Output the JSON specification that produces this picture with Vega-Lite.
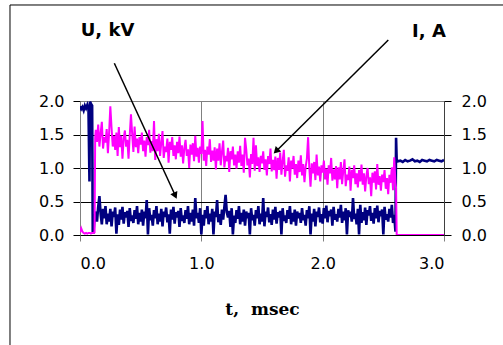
{
"$schema": "https://vega.github.io/schema/vega-lite/v6.json",
"width": 364, "height": 134,
"autosize": {"type": "none"},
"padding": {"left": 80, "top": 101, "right": 59, "bottom": 110},
"background": "white",
"config": {"view": {"stroke": "#808080", "strokeWidth": 1}, "axis": {"labelFont": "DejaVu Sans", "labelFontSize": 16, "labelColor": "black"}},
"data": {"values": [
{"t":0,"u":1.92,"i":0.04},{"t":0.01,"u":1.88,"i":0.10},{"t":0.02,"u":1.91,"i":0.05},{"t":0.03,"u":1.86,"i":0.03},{"t":0.04,"u":1.93,"i":0.02},{"t":0.05,"u":1.89,"i":0.03},{"t":0.06,"u":1.94,"i":0.02},{"t":0.07,"u":1.87,"i":0.03},{"t":0.078,"u":0.80,"i":0.03},{"t":0.082,"u":1.99,"i":0.03},{"t":0.09,"u":1.96,"i":0.02},{"t":0.10,"u":1.93,"i":0.03},{"t":0.105,"u":0.05,"i":0.03},{"t":0.11,"u":0.02,"i":0.03},{"t":0.12,"u":0.25,"i":0.04},{"t":0.125,"u":0.30,"i":1.45},
{"t":0.13,"u":0.35,"i":1.57},{"t":0.14,"u":0.20,"i":1.39},{"t":0.15,"u":0.42,"i":1.65},{"t":0.16,"u":0.58,"i":1.32},{"t":0.17,"u":0.32,"i":1.52},{"t":0.18,"u":0.16,"i":1.69},{"t":0.19,"u":0.39,"i":1.29},
{"t":0.20,"u":0.25,"i":1.46},{"t":0.21,"u":0.43,"i":1.38},{"t":0.22,"u":0.16,"i":1.58},{"t":0.23,"u":0.32,"i":1.22},{"t":0.24,"u":0.20,"i":1.53},{"t":0.25,"u":0.39,"i":1.92},{"t":0.26,"u":0.13,"i":1.60},{"t":0.27,"u":0.35,"i":1.32},{"t":0.28,"u":0.27,"i":1.48},{"t":0.29,"u":0.41,"i":1.27},
{"t":0.30,"u":0.02,"i":1.53},{"t":0.31,"u":0.31,"i":1.18},{"t":0.32,"u":0.15,"i":1.61},{"t":0.33,"u":0.38,"i":1.31},{"t":0.34,"u":0.23,"i":1.48},{"t":0.35,"u":0.42,"i":1.14},{"t":0.36,"u":0.17,"i":1.44},{"t":0.37,"u":0.34,"i":1.56},{"t":0.38,"u":0.26,"i":1.32},{"t":0.39,"u":0.36,"i":1.42},
{"t":0.40,"u":0.12,"i":1.14},{"t":0.41,"u":0.40,"i":1.49},{"t":0.42,"u":0.21,"i":1.80},{"t":0.43,"u":0.29,"i":1.51},{"t":0.44,"u":0.18,"i":1.24},{"t":0.45,"u":0.37,"i":1.62},{"t":0.46,"u":0.24,"i":1.31},{"t":0.47,"u":0.43,"i":1.44},{"t":0.48,"u":0.16,"i":1.22},{"t":0.49,"u":0.33,"i":1.46},
{"t":0.50,"u":0.20,"i":1.35},{"t":0.51,"u":0.38,"i":1.53},{"t":0.52,"u":0.14,"i":1.25},{"t":0.53,"u":0.35,"i":1.41},{"t":0.54,"u":0.25,"i":1.17},{"t":0.55,"u":0.52,"i":1.46},{"t":0.56,"u":0.01,"i":1.34},{"t":0.57,"u":0.40,"i":1.57},{"t":0.58,"u":0.22,"i":1.23},{"t":0.59,"u":0.30,"i":1.40},
{"t":0.60,"u":0.14,"i":1.25},{"t":0.61,"u":0.37,"i":1.70},{"t":0.62,"u":0.25,"i":1.12},{"t":0.63,"u":0.43,"i":1.43},{"t":0.64,"u":0.16,"i":1.25},{"t":0.65,"u":0.32,"i":1.51},{"t":0.66,"u":0.20,"i":1.18},{"t":0.67,"u":0.39,"i":1.38},{"t":0.68,"u":0.13,"i":1.55},{"t":0.69,"u":0.35,"i":1.15},
{"t":0.70,"u":0.27,"i":1.32},{"t":0.71,"u":0.41,"i":1.24},{"t":0.72,"u":0.19,"i":1.44},{"t":0.73,"u":0.31,"i":1.08},{"t":0.74,"u":0.02,"i":1.39},{"t":0.75,"u":0.38,"i":1.27},{"t":0.76,"u":0.23,"i":1.46},{"t":0.77,"u":0.42,"i":1.18},{"t":0.78,"u":0.17,"i":1.34},{"t":0.79,"u":0.34,"i":1.13},
{"t":0.80,"u":0.26,"i":1.39},{"t":0.81,"u":0.36,"i":1.22},{"t":0.82,"u":0.12,"i":1.47},{"t":0.83,"u":0.40,"i":1.17},{"t":0.84,"u":0.21,"i":1.34},{"t":0.85,"u":0.29,"i":1.07},{"t":0.86,"u":0.18,"i":1.30},{"t":0.87,"u":0.37,"i":1.42},{"t":0.88,"u":0.24,"i":1.18},{"t":0.89,"u":0.43,"i":1.28},
{"t":0.90,"u":0.16,"i":1.00},{"t":0.91,"u":0.33,"i":1.35},{"t":0.92,"u":0.20,"i":1.20},{"t":0.93,"u":0.38,"i":1.37},{"t":0.94,"u":0.14,"i":1.10},{"t":0.95,"u":0.55,"i":1.48},{"t":0.96,"u":0.25,"i":1.17},{"t":0.97,"u":0.33,"i":1.30},{"t":0.98,"u":0.18,"i":1.08},{"t":0.99,"u":0.40,"i":1.32},
{"t":1.00,"u":0.01,"i":1.21},{"t":1.01,"u":0.30,"i":1.70},{"t":1.02,"u":0.14,"i":1.11},{"t":1.03,"u":0.37,"i":1.27},{"t":1.04,"u":0.25,"i":1.03},{"t":1.05,"u":0.43,"i":1.32},{"t":1.06,"u":0.16,"i":1.20},{"t":1.07,"u":0.32,"i":1.43},{"t":1.08,"u":0.20,"i":1.09},{"t":1.09,"u":0.39,"i":1.26},
{"t":1.10,"u":0.01,"i":1.11},{"t":1.11,"u":0.35,"i":1.31},{"t":1.12,"u":0.27,"i":0.98},{"t":1.13,"u":0.52,"i":1.29},{"t":1.14,"u":0.19,"i":1.11},{"t":1.15,"u":0.31,"i":1.37},{"t":1.16,"u":0.15,"i":1.04},{"t":1.17,"u":0.38,"i":1.24},{"t":1.18,"u":0.23,"i":1.41},{"t":1.19,"u":0.42,"i":1.01},
{"t":1.20,"u":0.60,"i":1.18},{"t":1.21,"u":0.34,"i":1.10},{"t":1.22,"u":0.26,"i":1.30},{"t":1.23,"u":0.36,"i":0.94},{"t":1.24,"u":0.12,"i":1.25},{"t":1.25,"u":0.40,"i":1.13},{"t":1.26,"u":0.01,"i":1.32},{"t":1.27,"u":0.29,"i":1.04},{"t":1.28,"u":0.18,"i":1.20},{"t":1.29,"u":0.37,"i":0.99},
{"t":1.30,"u":0.24,"i":1.25},{"t":1.31,"u":0.43,"i":1.08},{"t":1.32,"u":0.16,"i":1.33},{"t":1.33,"u":0.33,"i":1.03},{"t":1.34,"u":0.20,"i":1.20},{"t":1.35,"u":0.38,"i":0.93},{"t":1.36,"u":0.14,"i":1.45},{"t":1.37,"u":0.35,"i":1.28},{"t":1.38,"u":0.25,"i":1.04},{"t":1.39,"u":0.33,"i":1.14},
{"t":1.40,"u":0.01,"i":0.86},{"t":1.41,"u":0.40,"i":1.21},{"t":1.42,"u":0.22,"i":1.06},{"t":1.43,"u":0.30,"i":1.45},{"t":1.44,"u":0.14,"i":0.96},{"t":1.45,"u":0.37,"i":1.34},{"t":1.46,"u":0.25,"i":1.03},{"t":1.47,"u":0.43,"i":1.16},{"t":1.48,"u":0.16,"i":0.94},{"t":1.49,"u":0.32,"i":1.18},
{"t":1.50,"u":0.20,"i":1.07},{"t":1.51,"u":0.55,"i":1.25},{"t":1.52,"u":0.13,"i":0.97},{"t":1.53,"u":0.35,"i":1.13},{"t":1.54,"u":0.27,"i":0.89},{"t":1.55,"u":0.41,"i":1.18},{"t":1.56,"u":0.19,"i":1.06},{"t":1.57,"u":0.31,"i":1.29},{"t":1.58,"u":0.15,"i":0.95},{"t":1.59,"u":0.38,"i":1.12},
{"t":1.60,"u":0.23,"i":0.97},{"t":1.61,"u":0.42,"i":1.17},{"t":1.62,"u":0.17,"i":0.84},{"t":1.63,"u":0.34,"i":1.15},{"t":1.64,"u":0.26,"i":0.97},{"t":1.65,"u":0.36,"i":1.23},{"t":1.66,"u":0.01,"i":0.90},{"t":1.67,"u":0.40,"i":1.10},{"t":1.68,"u":0.21,"i":1.27},{"t":1.69,"u":0.29,"i":0.87},
{"t":1.70,"u":0.18,"i":1.04},{"t":1.71,"u":0.37,"i":0.96},{"t":1.72,"u":0.24,"i":1.16},{"t":1.73,"u":0.43,"i":0.80},{"t":1.74,"u":0.16,"i":1.11},{"t":1.75,"u":0.33,"i":0.99},{"t":1.76,"u":0.20,"i":1.18},{"t":1.77,"u":0.38,"i":0.90},{"t":1.78,"u":0.14,"i":1.06},{"t":1.79,"u":0.35,"i":0.85},
{"t":1.80,"u":0.25,"i":1.11},{"t":1.81,"u":0.33,"i":0.94},{"t":1.82,"u":0.18,"i":1.19},{"t":1.83,"u":0.40,"i":0.89},{"t":1.84,"u":0.22,"i":1.06},{"t":1.85,"u":0.30,"i":0.79},{"t":1.86,"u":0.14,"i":1.02},{"t":1.87,"u":0.37,"i":1.14},{"t":1.88,"u":0.25,"i":1.46},{"t":1.89,"u":0.43,"i":1.00},
{"t":1.90,"u":0.01,"i":0.72},{"t":1.91,"u":0.32,"i":1.07},{"t":1.92,"u":0.20,"i":0.92},{"t":1.93,"u":0.39,"i":1.09},{"t":1.94,"u":0.13,"i":0.82},{"t":1.95,"u":0.35,"i":1.20},{"t":1.96,"u":0.27,"i":0.89},{"t":1.97,"u":0.41,"i":1.02},{"t":1.98,"u":0.19,"i":0.80},{"t":1.99,"u":0.31,"i":1.04},
{"t":2.00,"u":0.17,"i":0.93},{"t":2.01,"u":0.40,"i":1.11},{"t":2.02,"u":0.25,"i":0.83},{"t":2.03,"u":0.44,"i":0.99},{"t":2.04,"u":0.19,"i":0.75},{"t":2.05,"u":0.36,"i":1.04},{"t":2.06,"u":0.28,"i":0.92},{"t":2.07,"u":0.38,"i":1.15},{"t":2.08,"u":0.14,"i":0.81},{"t":2.09,"u":0.42,"i":0.98},
{"t":2.10,"u":0.23,"i":0.83},{"t":2.11,"u":0.31,"i":1.03},{"t":2.12,"u":0.20,"i":0.70},{"t":2.13,"u":0.39,"i":1.01},{"t":2.14,"u":0.26,"i":0.83},{"t":2.15,"u":0.45,"i":1.09},{"t":2.16,"u":0.18,"i":0.76},{"t":2.17,"u":0.35,"i":0.96},{"t":2.18,"u":0.22,"i":1.13},{"t":2.19,"u":0.40,"i":0.73},
{"t":2.20,"u":0.01,"i":0.90},{"t":2.21,"u":0.37,"i":0.82},{"t":2.22,"u":0.27,"i":1.02},{"t":2.23,"u":0.35,"i":0.66},{"t":2.24,"u":0.20,"i":0.97},{"t":2.25,"u":0.55,"i":0.85},{"t":2.26,"u":0.24,"i":1.04},{"t":2.27,"u":0.32,"i":0.76},{"t":2.28,"u":0.16,"i":0.92},{"t":2.29,"u":0.39,"i":0.71},
{"t":2.30,"u":0.01,"i":0.97},{"t":2.31,"u":0.45,"i":0.80},{"t":2.32,"u":0.18,"i":1.05},{"t":2.33,"u":0.34,"i":0.75},{"t":2.34,"u":0.22,"i":0.92},{"t":2.35,"u":0.41,"i":0.65},{"t":2.36,"u":0.15,"i":0.88},{"t":2.37,"u":0.37,"i":1.00},{"t":2.38,"u":0.29,"i":0.76},{"t":2.39,"u":0.43,"i":0.86},
{"t":2.40,"u":0.21,"i":0.58},{"t":2.41,"u":0.33,"i":0.93},{"t":2.42,"u":0.17,"i":0.78},{"t":2.43,"u":0.40,"i":0.95},{"t":2.44,"u":0.25,"i":0.68},{"t":2.45,"u":0.44,"i":1.06},{"t":2.46,"u":0.19,"i":0.75},{"t":2.47,"u":0.36,"i":0.88},{"t":2.48,"u":0.28,"i":0.66},{"t":2.49,"u":0.38,"i":0.90},
{"t":2.50,"u":0.01,"i":0.79},{"t":2.51,"u":0.42,"i":0.97},{"t":2.52,"u":0.23,"i":0.69},{"t":2.53,"u":0.31,"i":0.85},{"t":2.54,"u":0.20,"i":0.61},{"t":2.55,"u":0.39,"i":0.90},{"t":2.56,"u":0.26,"i":0.78},{"t":2.57,"u":0.45,"i":1.01},{"t":2.58,"u":0.18,"i":0.67},{"t":2.59,"u":0.30,"i":1.16},
{"t":2.60,"u":0.05,"i":0.78},{"t":2.605,"u":1.45,"i":0.70},{"t":2.61,"u":1.12,"i":0},{"t":2.62,"u":1.10,"i":0},{"t":2.64,"u":1.11,"i":0},{"t":2.66,"u":1.09,"i":0},{"t":2.68,"u":1.12,"i":0},{"t":2.70,"u":1.10,"i":0},{"t":2.72,"u":1.11,"i":0},{"t":2.74,"u":1.13,"i":0},{"t":2.76,"u":1.10,"i":0},{"t":2.78,"u":1.11,"i":0},{"t":2.80,"u":1.09,"i":0},{"t":2.82,"u":1.12,"i":0},{"t":2.84,"u":1.11,"i":0},{"t":2.86,"u":1.10,"i":0},{"t":2.88,"u":1.12,"i":0},{"t":2.90,"u":1.11,"i":0},{"t":2.92,"u":1.10,"i":0},{"t":2.94,"u":1.12,"i":0},{"t":2.96,"u":1.11,"i":0},{"t":2.98,"u":1.10,"i":0},{"t":3.00,"u":1.12,"i":0}
]},
"layer": [
{"data": {"values": [{}]},
 "mark": {"type": "rect", "fillOpacity": 0, "stroke": "black", "strokeWidth": 1, "clip": false},
 "encoding": {"x": {"datum": -0.577, "type": "quantitative", "scale": {"domain": [0, 3]}, "axis": null}, "x2": {"datum": 3.6},
  "y": {"datum": 3.433, "type": "quantitative", "scale": {"domain": [0, 2]}, "axis": null}, "y2": {"datum": -1.8}}},
{"mark": {"type": "line", "color": "#000080", "strokeWidth": 2.6, "clip": true},
 "encoding": {
  "x": {"field": "t", "type": "quantitative", "scale": {"domain": [0, 3]},
   "axis": {"values": [0, 1, 2, 3], "format": ".1f", "title": "t,\u00a0\u00a0msec", "titleFont": "DejaVu Serif", "titleFontWeight": "bold", "titleFontSize": 17, "titleColor": "black", "titlePadding": 30,
    "grid": true, "gridColor": "#808080", "domainColor": "#000000", "tickColor": "#808080", "tickSize": 6, "labelPadding": 14}},
  "y": {"field": "u", "type": "quantitative", "scale": {"domain": [0, 2]},
   "axis": {"values": [0, 0.5, 1, 1.5, 2], "format": ".1f", "title": null, "grid": true,
    "gridColor": {"condition": {"test": "datum.value >= 2", "value": "#808080"}, "value": "#000000"},
    "domainColor": "#808080", "tickColor": "#000000", "tickSize": 7, "labelPadding": 9}}}},
{"mark": {"type": "line", "color": "#FF00FF", "strokeWidth": 2, "clip": true},
 "encoding": {
  "x": {"field": "t", "type": "quantitative", "scale": {"domain": [0, 3]}, "axis": null},
  "y": {"field": "i", "type": "quantitative", "scale": {"domain": [0, 2]},
   "axis": {"orient": "right", "values": [0, 0.5, 1, 1.5, 2], "format": ".1f", "title": null, "grid": false,
    "domainColor": "#404040", "tickColor": "#000000", "tickSize": 7, "labelPadding": 10}}}},
{"data": {"values": [{}]},
 "mark": {"type": "rule", "color": "black", "strokeWidth": 1.5, "clip": false},
 "encoding": {"x": {"datum": 0.283, "type": "quantitative", "scale": {"domain": [0, 3]}, "axis": null}, "x2": {"datum": 0.79},
  "y": {"datum": 2.563, "type": "quantitative", "scale": {"domain": [0, 2]}, "axis": null}, "y2": {"datum": 0.57}}},
{"data": {"values": [{}]},
 "mark": {"type": "point", "shape": "triangle-up", "filled": true, "color": "black", "opacity": 1, "size": 60, "angle": 155, "clip": false},
 "encoding": {"x": {"datum": 0.785, "type": "quantitative", "scale": {"domain": [0, 3]}, "axis": null},
  "y": {"datum": 0.588, "type": "quantitative", "scale": {"domain": [0, 2]}, "axis": null}}},
{"data": {"values": [{}]},
 "mark": {"type": "rule", "color": "black", "strokeWidth": 1.5, "clip": false},
 "encoding": {"x": {"datum": 2.541, "type": "quantitative", "scale": {"domain": [0, 3]}, "axis": null}, "x2": {"datum": 1.61},
  "y": {"datum": 2.91, "type": "quantitative", "scale": {"domain": [0, 2]}, "axis": null}, "y2": {"datum": 1.24}}},
{"data": {"values": [{}]},
 "mark": {"type": "point", "shape": "triangle-up", "filled": true, "color": "black", "opacity": 1, "size": 60, "angle": 225, "clip": false},
 "encoding": {"x": {"datum": 1.616, "type": "quantitative", "scale": {"domain": [0, 3]}, "axis": null},
  "y": {"datum": 1.251, "type": "quantitative", "scale": {"domain": [0, 2]}, "axis": null}}},
{"data": {"values": [{}]},
 "mark": {"type": "text", "text": "U, kV", "font": "DejaVu Sans", "fontWeight": "bold", "fontSize": 18, "align": "center", "baseline": "alphabetic", "color": "black", "clip": false},
 "encoding": {"x": {"datum": 0.227, "type": "quantitative", "scale": {"domain": [0, 3]}, "axis": null},
  "y": {"datum": 2.97, "type": "quantitative", "scale": {"domain": [0, 2]}, "axis": null}}},
{"data": {"values": [{}]},
 "mark": {"type": "text", "text": "I, A", "font": "DejaVu Sans", "fontWeight": "bold", "fontSize": 18, "align": "center", "baseline": "alphabetic", "color": "black", "clip": false},
 "encoding": {"x": {"datum": 2.876, "type": "quantitative", "scale": {"domain": [0, 3]}, "axis": null},
  "y": {"datum": 2.955, "type": "quantitative", "scale": {"domain": [0, 2]}, "axis": null}}}
],
"resolve": {"axis": {"y": "independent", "x": "independent"}}
}
